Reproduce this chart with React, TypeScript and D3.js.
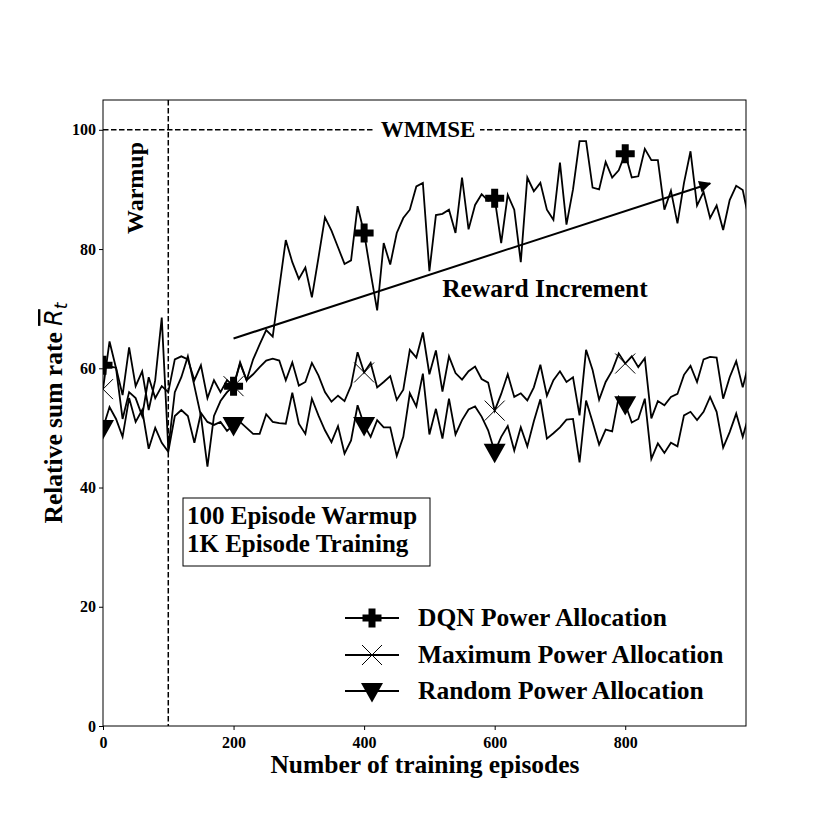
import React, { useRef, useEffect } from 'react';
import * as d3 from 'd3';

// episodes sampled every 10 steps
const episodes: number[] = d3.range(0, 1000, 10);

const dqnValues: number[] = [
    60.5, 60.3, 60.1, 55.5, 63.5, 57, 59.5, 53, 58, 68.5,
    46.5, 56, 58.5, 62, 57, 52, 43.5, 52, 54.5, 56,
    57, 60.8, 58, 61.5, 64, 66.4, 65.3, 73.5, 81.5, 77.8,
    75, 76.9, 71.9, 78.5, 85.3, 83.1, 80.3, 77.5, 78.1, 87.2,
    82.7, 76, 69.7, 81, 77.4, 82.7, 85.2, 86.6, 90.5, 91.1,
    76.3, 85.7, 85.9, 86.6, 82.7, 92, 83.3, 87.4, 89.2, 88.1,
    88.5, 81, 89.1, 86.6, 77.8, 92, 89.7, 91.1, 86.6, 84.9,
    94.5, 84.1, 90, 98.1, 98.1, 90.3, 90, 94.6, 92, 93.2,
    96, 92, 92.2, 96.8, 94.9, 94.9, 86.6, 89.8, 84.3, 91.1,
    96.4, 87.3, 89.6, 85.2, 87.3, 83.2, 88.2, 90.6, 89.9, 84.7,
];

const maxValues: number[] = [
    56.5, 64.5, 60, 51.5, 56, 55, 52, 58.5, 55, 57,
    56, 61.5, 62, 61.5, 58, 60.5, 55, 58, 56, 58,
    57, 61, 58, 59, 60.2, 61.3, 61.6, 61.3, 58, 61,
    57.1, 57.7, 60.9, 58.8, 56, 54.4, 55.4, 54.5, 57.1, 62.7,
    59.3, 60.9, 56.8, 57.7, 58.7, 54.7, 56.4, 63.1, 61.8, 66,
    59, 63, 56.1, 62, 59.2, 58.1, 59.5, 60.3, 58.2, 57.6,
    52.9, 55.7, 59, 55.2, 55.8, 54.6, 56.8, 60.6, 55.4, 58,
    59.5, 57.7, 58.5, 52.1, 63.1, 59.7, 54.7, 57.7, 59.6, 62.5,
    60.8, 62, 60.2, 61.7, 51.6, 54.5, 53.8, 55.2, 55.7, 58.9,
    60.4, 57.7, 61.5, 61.9, 61.8, 54.9, 58.5, 61.2, 56.8, 61.2,
];

const randomValues: number[] = [
    50, 53.5, 51.5, 48.5, 55, 51, 53, 46.5, 50, 47.5,
    46, 52, 53, 52, 47.5, 52.5, 51, 50.5, 51, 49.5,
    50.5, 51, 50, 49, 49, 52.3, 51, 50.8, 50.7, 55.9,
    50.7, 49, 54.9, 52.1, 49.6, 47.6, 50.3, 45.7, 47.9, 53.8,
    50.5, 48.5, 51.3, 50.1, 50.1, 45.3, 48.5, 55.8, 53.6, 59.1,
    48.9, 53.2, 48.2, 54.9, 48.9, 51.3, 53.1, 53.6, 51.9, 49.6,
    46, 48.5, 50.3, 46.2, 50.1, 46.9, 51.1, 54.8, 48.2, 49.1,
    50.1, 51.4, 51.5, 44.2, 54.6, 51, 47.2, 49.7, 49.4, 55.2,
    54, 50.9, 51.5, 54.9, 44.8, 47.4, 45.8, 47.5, 46.9, 52.1,
    52.7, 51.3, 52.7, 55.2, 52.7, 46.7, 49.3, 52.4, 48.5, 52.4,
];

const seriesNames: string[] = ['DQN Power Allocation', 'Maximum Power Allocation', 'Random Power Allocation'];
const markerKinds: string[] = ['plus', 'x', 'tri'];
const xTicks: number[] = [0, 200, 400, 600, 800];
const yTicks: number[] = [0, 20, 40, 60, 80, 100];
const warmupEnd = 100;
const wmmseLevel = 100;
const arrowFrom: [number, number] = [200, 65];
const arrowTo: [number, number] = [930, 91];

const FONT = "'Liberation Serif', 'Times New Roman', serif";

const App: React.FC = () => {
    const svgRef = useRef<SVGSVGElement | null>(null);

    useEffect(() => {
        const svg = d3.select(svgRef.current);
        svg.selectAll('*').remove();

        const left = 103, right = 746, top = 100, bottom = 726;

        const x = d3.scaleLinear().domain([0, 985]).range([left, right]);
        const y = d3.scaleLinear().domain([0, 105]).range([bottom, top]);

        svg.append('defs').append('clipPath').attr('id', 'plotClip')
            .append('rect')
            .attr('x', left).attr('y', top)
            .attr('width', right - left).attr('height', bottom - top);

        svg.append('defs').append('marker')
            .attr('id', 'arrowHead')
            .attr('viewBox', '0 0 10 10')
            .attr('refX', 9).attr('refY', 5)
            .attr('markerWidth', 18).attr('markerHeight', 12)
            .attr('markerUnits', 'userSpaceOnUse')
            .attr('orient', 'auto')
            .append('path')
            .attr('d', 'M0,0 L10,5 L0,10 z')
            .attr('fill', '#000');

        // axes
        const xAxis = d3.axisBottom(x).tickValues(xTicks).tickSize(4).tickSizeOuter(0);
        const yAxis = d3.axisLeft(y).tickValues(yTicks).tickSize(4).tickSizeOuter(0);

        const gx = svg.append('g')
            .attr('transform', `translate(0,${bottom})`)
            .call(xAxis);
        gx.select('.domain').remove();
        gx.selectAll('text')
            .attr('dy', '0.95em')
            .style('font-family', FONT)
            .style('font-weight', 'bold')
            .style('font-size', '16px');

        const gy = svg.append('g')
            .attr('transform', `translate(${left},0)`)
            .call(yAxis);
        gy.select('.domain').remove();
        gy.selectAll('text')
            .style('font-family', FONT)
            .style('font-weight', 'bold')
            .style('font-size', '16px');

        const plot = svg.append('g').attr('clip-path', 'url(#plotClip)');

        // WMMSE reference line and warmup boundary
        plot.append('line')
            .attr('x1', left).attr('x2', right)
            .attr('y1', y(wmmseLevel)).attr('y2', y(wmmseLevel))
            .attr('stroke', '#000').attr('stroke-width', 1.5)
            .attr('stroke-dasharray', '5.5,2.5');
        plot.append('line')
            .attr('x1', x(warmupEnd)).attr('x2', x(warmupEnd))
            .attr('y1', top).attr('y2', bottom)
            .attr('stroke', '#000').attr('stroke-width', 1.5)
            .attr('stroke-dasharray', '5.5,2.5');

        const allSeries = [dqnValues, maxValues, randomValues];
        const line = d3.line<number>()
            .x((_, i) => x(episodes[i]))
            .y(d => y(d));

        allSeries.forEach(vals => {
            plot.append('path')
                .datum(vals)
                .attr('d', line)
                .attr('fill', 'none')
                .attr('stroke', '#000')
                .attr('stroke-width', 1.8)
                .attr('stroke-linejoin', 'miter');
        });

        const drawMarker = (g: any, kind: string, cx: number, cy: number) => {
            if (kind === 'plus') {
                const a = 9.5, w = 3.5;
                g.append('path')
                    .attr('d', `M${cx - w},${cy - a}H${cx + w}V${cy - w}H${cx + a}V${cy + w}H${cx + w}V${cy + a}H${cx - w}V${cy + w}H${cx - a}V${cy - w}H${cx - w}Z`)
                    .attr('fill', '#000');
            } else if (kind === 'x') {
                const a = 10;
                g.append('path')
                    .attr('d', `M${cx - a},${cy - a}L${cx + a},${cy + a}M${cx - a},${cy + a}L${cx + a},${cy - a}`)
                    .attr('stroke', '#000').attr('stroke-width', 1);
            } else {
                const a = 11;
                g.append('path')
                    .attr('d', `M${cx - a},${cy - a * 0.72}L${cx + a},${cy - a * 0.72}L${cx},${cy + a * 1.05}Z`)
                    .attr('fill', '#000');
            }
        };

        allSeries.forEach((vals, s) => {
            episodes.forEach((ep, i) => {
                if (ep % 200 === 0) drawMarker(plot, markerKinds[s], x(ep), y(vals[i]));
            });
        });

        // reward increment arrow
        svg.append('line')
            .attr('x1', x(arrowFrom[0])).attr('y1', y(arrowFrom[1]))
            .attr('x2', x(arrowTo[0])).attr('y2', y(arrowTo[1]))
            .attr('stroke', '#000').attr('stroke-width', 2)
            .attr('marker-end', 'url(#arrowHead)');

        const bold = (sel: any, size: number) => sel
            .style('font-family', FONT)
            .style('font-weight', 'bold')
            .style('font-size', `${size}px`)
            .attr('fill', '#000');

        // WMMSE label with white backing
        svg.append('rect')
            .attr('x', 375).attr('y', y(wmmseLevel) - 12)
            .attr('width', 105).attr('height', 22)
            .attr('fill', '#fff');
        bold(svg.append('text')
            .attr('x', 428).attr('y', y(wmmseLevel) + 7)
            .attr('text-anchor', 'middle')
            .text('WMMSE'), 23);

        bold(svg.append('text')
            .attr('transform', `translate(143,${188}) rotate(-90)`)
            .attr('text-anchor', 'middle')
            .text('Warmup'), 24);

        bold(svg.append('text')
            .attr('x', 545).attr('y', 297)
            .attr('text-anchor', 'middle')
            .text('Reward Increment'), 25.5);

        // info box
        svg.append('rect')
            .attr('x', 183).attr('y', 498)
            .attr('width', 247).attr('height', 68)
            .attr('fill', '#fff')
            .attr('stroke', '#000').attr('stroke-width', 1);
        bold(svg.append('text').attr('x', 187).attr('y', 524).text('100 Episode Warmup'), 25);
        bold(svg.append('text').attr('x', 187).attr('y', 552).text('1K Episode Training'), 25);

        // legend
        const legendY = [618, 655, 691];
        seriesNames.forEach((name, i) => {
            const g = svg.append('g');
            g.append('line')
                .attr('x1', 345).attr('x2', 399)
                .attr('y1', legendY[i]).attr('y2', legendY[i])
                .attr('stroke', '#000').attr('stroke-width', 1.8);
            drawMarker(g, markerKinds[i], 372, legendY[i]);
            bold(g.append('text')
                .attr('x', 418).attr('y', legendY[i] + 8)
                .text(name), 25.5);
        });

        // frame
        svg.append('rect')
            .attr('x', left).attr('y', top)
            .attr('width', right - left).attr('height', bottom - top)
            .attr('fill', 'none')
            .attr('stroke', '#000').attr('stroke-width', 1);

        // axis titles
        bold(svg.append('text')
            .attr('x', 425).attr('y', 773)
            .attr('text-anchor', 'middle')
            .text('Number of training episodes'), 25.5);

        const yl = svg.append('text')
            .attr('transform', `translate(62,${413}) rotate(-90)`)
            .attr('text-anchor', 'middle');
        bold(yl.append('tspan').text('Relative sum rate '), 25.5);
        yl.append('tspan')
            .style('font-family', "'DejaVu Sans', sans-serif")
            .style('font-style', 'italic')
            .style('font-size', '24px')
            .style('text-decoration', 'overline')
            .text('R');
        yl.append('tspan')
            .style('font-family', "'DejaVu Sans', sans-serif")
            .style('font-style', 'italic')
            .style('font-size', '17px')
            .attr('dy', 5)
            .text('t');
    }, []);

    return (
        <svg ref={svgRef} width={830} height={830}
            style={{ position: 'absolute', left: 0, top: 0, background: '#fff' }} />
    );
};

export default App;
